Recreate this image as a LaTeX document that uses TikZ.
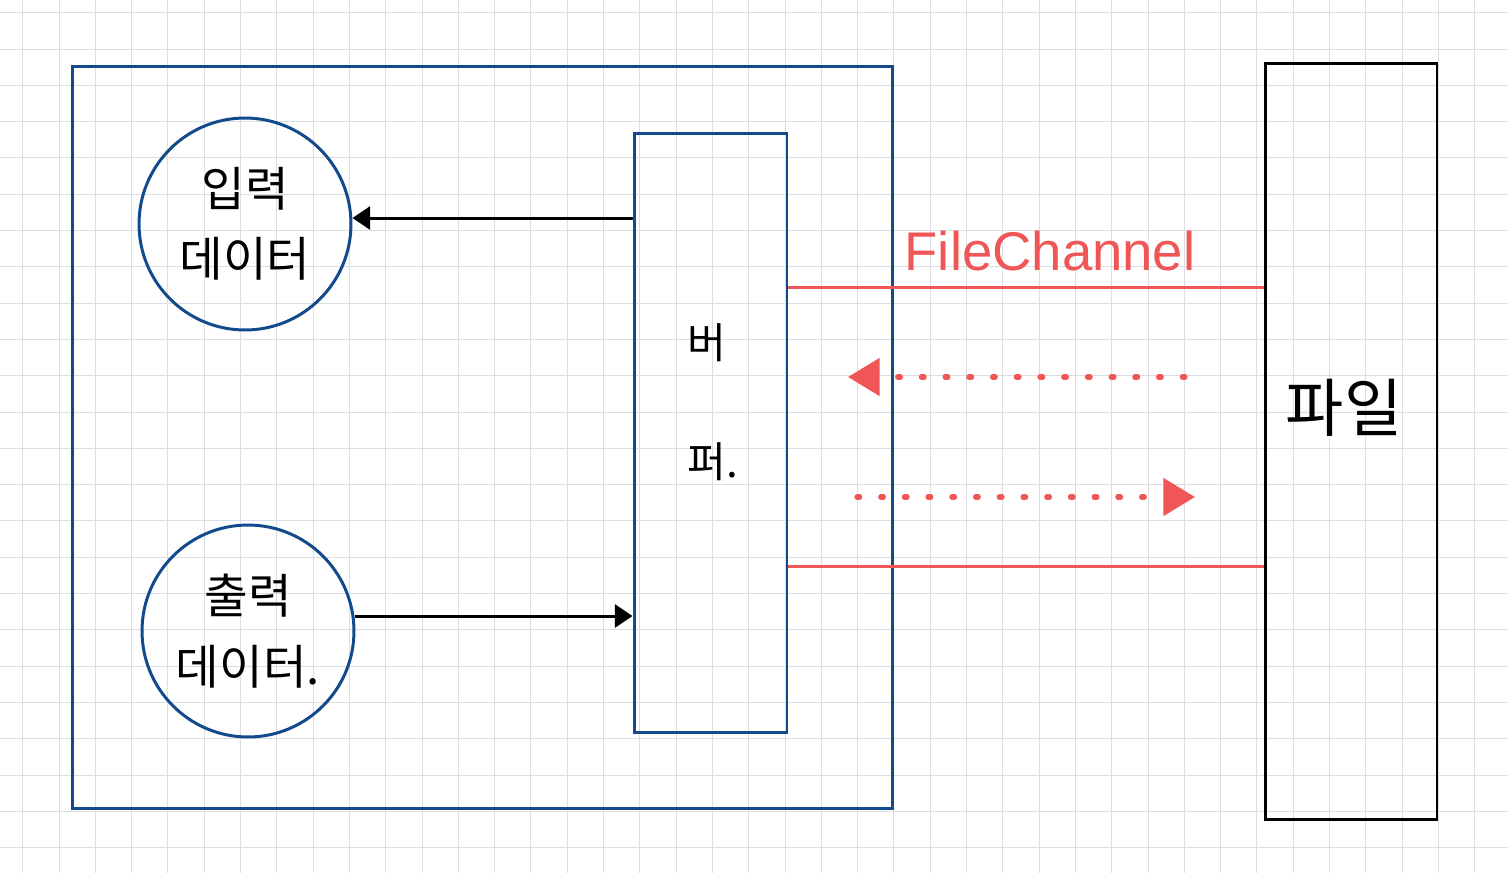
\documentclass[tikz,border=0pt]{standalone}
\usepackage{fontspec}
\setmainfont{Liberation Sans}
\newfontfamily\kor{Noto Sans CJK KR}
\usetikzlibrary{arrows.meta}
\definecolor{boxblue}{RGB}{18,74,140}
\definecolor{chanred}{RGB}{240,86,86}
\definecolor{gridgray}{RGB}{220,222,228}

\begin{document}
\begin{tikzpicture}[x=0.02cm, y=-0.02cm,
        gridline/.style={draw=gridgray, line width=0.5pt},
        frame/.style={rectangle, draw=boxblue, line width=1.7pt, inner sep=0pt},
        data/.style={circle, draw=boxblue, line width=1.7pt, minimum size=4.24cm, inner sep=0pt, align=center, font=\kor\fontsize{27}{40}\selectfont},
        word/.style={font=\kor\fontsize{24}{30}\selectfont},
        arrow/.style={-{Triangle[length=10pt, width=13pt]}, line width=1.7pt},
        channel/.style={draw=chanred, line width=1.7pt},
        flow/.style={chanred, line width=3pt, line cap=round, dash pattern=on 1.5pt off 12pt, -{Triangle[length=18pt, width=21pt]}}
    ]

        % Background and grid
        \useasboundingbox (0,0) rectangle (1508,873);
        \fill[white] (0,0) rectangle (1508,873);
        \foreach \i in {0,...,40}
            \draw[gridline] (22.7+36.3*\i,0) -- (22.7+36.3*\i,873);
        \foreach \j in {0,...,23}
            \draw[gridline] (0,12.7+36.3*\j) -- (1508,12.7+36.3*\j);

        % Program box
        \node[frame, minimum width=16.42cm, minimum height=14.86cm] (app) at (482.5,437.5) {};

        % Input and output data
        \node[data] (inp) at (245,224) {입력\\데이터};
        \node[data] (out) at (248,631) {출력\\데이터.};

        % Buffer
        \node[frame, minimum width=3.06cm, minimum height=12cm] (buffer) at (710.5,433) {};
        \node[word] (bu) at (707,343) {버};
        \node[word] (peo) at (713,462) {퍼.};

        % File
        \node[rectangle, draw=black, line width=1.7pt, minimum width=3.44cm, minimum height=15.14cm] (file) at (1351,441.5) {};
        \node[font=\kor\fontsize{36}{40}\selectfont] (filename) at (1344,408) {파일};

        % Arrows between data and buffer
        \draw[arrow] (buffer.west |- 0,218) -- (inp.east |- 0,218);
        \draw[arrow] (out.east |- 0,616) -- (buffer.west |- 0,616);

        % Channel between buffer and file
        \coordinate (chtop) at (0,287);
        \coordinate (chbot) at (0,566);
        \draw[channel] (buffer.east |- chtop) -- (file.west |- chtop);
        \draw[channel] (buffer.east |- chbot) -- (file.west |- chbot);
        \node[chanred, font=\fontsize{31}{36}\selectfont, anchor=base] (chname) at (1050,270) {FileChannel};

        % Reading and writing through the channel
        \coordinate (readfrom) at (1185,377);
        \coordinate (readto) at (848,377);
        \coordinate (writefrom) at (857,497);
        \coordinate (writeto) at (1195,497);
        \draw[flow] (readfrom) -- (readto);
        \draw[flow] (writefrom) -- (writeto);

    \end{tikzpicture}
\end{document}
